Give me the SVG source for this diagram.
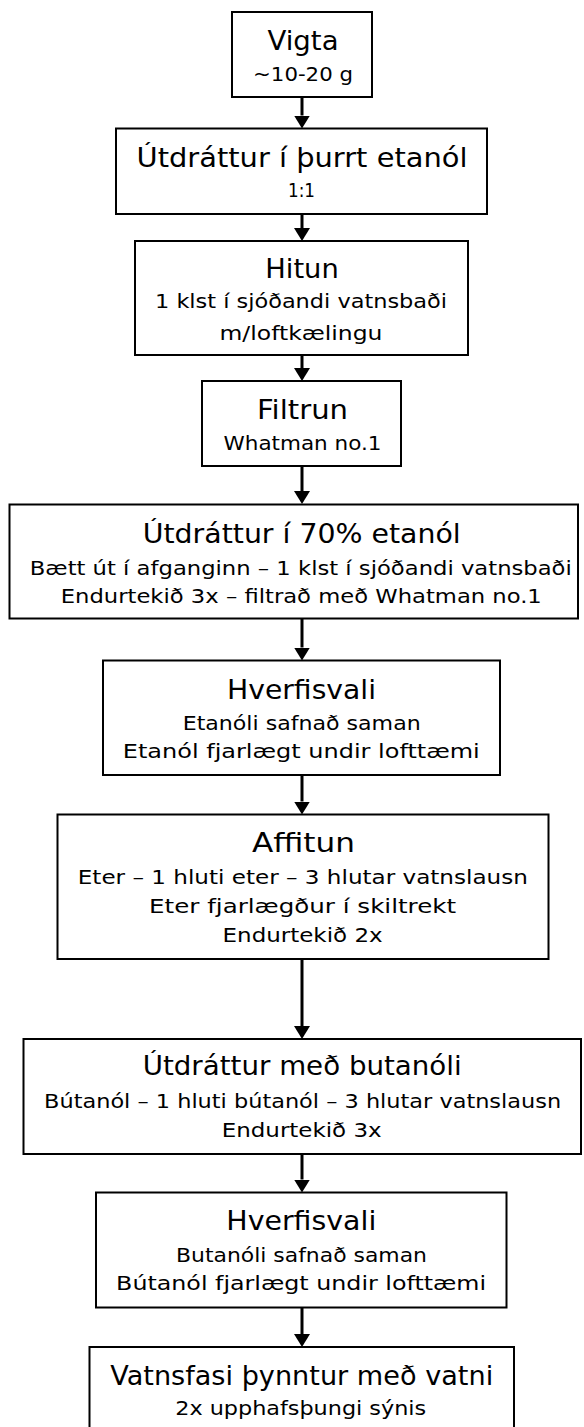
<svg xmlns="http://www.w3.org/2000/svg" width="584" height="1427" viewBox="0 0 584 1427">
<defs>
<style>
.box{fill:#fff;stroke:#000;stroke-width:2}
.t{font-family:'Comic Sans MS','DejaVu Sans',sans-serif;fill:#000;text-anchor:middle}
.h{font-size:27px}
.s{font-size:20px}
.c{stroke:#000;stroke-width:3;fill:none}
</style>
<marker id="ah" viewBox="0 0 13 16" refX="0" refY="8" markerWidth="13" markerHeight="16" markerUnits="userSpaceOnUse" orient="auto">
<path d="M0,0 L13,8 L0,16 z" fill="#000"/>
</marker>
</defs>
<rect width="584" height="1427" fill="#fff"/>
<g id="connectors">
<line class="c" x1="302" y1="97" x2="302" y2="115.5" marker-end="url(#ah)"/>
<line class="c" x1="302" y1="214" x2="302" y2="228" marker-end="url(#ah)"/>
<line class="c" x1="302" y1="355" x2="302" y2="368" marker-end="url(#ah)"/>
<line class="c" x1="302" y1="466" x2="302" y2="491" marker-end="url(#ah)"/>
<line class="c" x1="302" y1="619" x2="302" y2="647.5" marker-end="url(#ah)"/>
<line class="c" x1="302" y1="775" x2="302" y2="801.5" marker-end="url(#ah)"/>
<line class="c" x1="302" y1="959" x2="302" y2="1026" marker-end="url(#ah)"/>
<line class="c" x1="302" y1="1154" x2="302" y2="1179.5" marker-end="url(#ah)"/>
<line class="c" x1="302" y1="1307.5" x2="302" y2="1334" marker-end="url(#ah)"/>
</g>
<g id="n1">
<rect class="box" x="232" y="12" width="140" height="85"/>
<text class="t h" x="303" y="50" textLength="71" lengthAdjust="spacingAndGlyphs">Vigta</text>
<text class="t s" x="303" y="81" textLength="100" lengthAdjust="spacingAndGlyphs">~10-20 g</text>
</g>
<g id="n2">
<rect class="box" x="116" y="128.5" width="371" height="85.5"/>
<text class="t h" x="302" y="166.7" textLength="331" lengthAdjust="spacingAndGlyphs">Útdráttur í þurrt etanól</text>
<text class="t s" x="301.5" y="197.3" textLength="27" lengthAdjust="spacingAndGlyphs">1:1</text>
</g>
<g id="n3">
<rect class="box" x="135" y="241" width="333" height="114"/>
<text class="t h" x="302" y="278.3" textLength="73.5" lengthAdjust="spacingAndGlyphs">Hitun</text>
<text class="t s" x="301" y="308.3" textLength="292" lengthAdjust="spacingAndGlyphs">1 klst í sjóðandi vatnsbaði</text>
<text class="t s" x="301" y="340" textLength="163" lengthAdjust="spacingAndGlyphs">m/loftkælingu</text>
</g>
<g id="n4">
<rect class="box" x="202" y="381" width="199" height="85"/>
<text class="t h" x="302.5" y="419.3" textLength="91" lengthAdjust="spacingAndGlyphs">Filtrun</text>
<text class="t s" x="302.5" y="450" textLength="158" lengthAdjust="spacingAndGlyphs">Whatman no.1</text>
</g>
<g id="n5">
<rect class="box" x="9.5" y="504.5" width="568.5" height="114"/>
<text class="t h" x="301.7" y="542.7" textLength="318" lengthAdjust="spacingAndGlyphs">Útdráttur í 70% etanól</text>
<text class="t s" x="300.8" y="575" textLength="542" lengthAdjust="spacingAndGlyphs">Bætt út í afganginn – 1 klst í sjóðandi vatnsbaði</text>
<text class="t s" x="301.3" y="603.3" textLength="481" lengthAdjust="spacingAndGlyphs">Endurtekið 3x – filtrað með Whatman no.1</text>
</g>
<g id="n6">
<rect class="box" x="103" y="660.5" width="397" height="114.5"/>
<text class="t h" x="301.5" y="699.3" textLength="149" lengthAdjust="spacingAndGlyphs">Hverfisvali</text>
<text class="t s" x="301.7" y="730" textLength="238" lengthAdjust="spacingAndGlyphs">Etanóli safnað saman</text>
<text class="t s" x="301.3" y="758.3" textLength="357" lengthAdjust="spacingAndGlyphs">Etanól fjarlægt undir lofttæmi</text>
</g>
<g id="n7">
<rect class="box" x="57.5" y="814.5" width="491" height="144.5"/>
<text class="t h" x="303.5" y="851.7" textLength="103" lengthAdjust="spacingAndGlyphs">Affitun</text>
<text class="t s" x="302.8" y="884" textLength="450" lengthAdjust="spacingAndGlyphs">Eter – 1 hluti eter – 3 hlutar vatnslausn</text>
<text class="t s" x="302.6" y="912.7" textLength="307" lengthAdjust="spacingAndGlyphs">Eter fjarlægður í skiltrekt</text>
<text class="t s" x="302.6" y="941.7" textLength="160" lengthAdjust="spacingAndGlyphs">Endurtekið 2x</text>
</g>
<g id="n8">
<rect class="box" x="23.5" y="1039" width="557.5" height="115"/>
<text class="t h" x="302.2" y="1075" textLength="319" lengthAdjust="spacingAndGlyphs">Útdráttur með butanóli</text>
<text class="t s" x="302.6" y="1108.3" textLength="517" lengthAdjust="spacingAndGlyphs">Bútanól – 1 hluti bútanól – 3 hlutar vatnslausn</text>
<text class="t s" x="301.7" y="1136.7" textLength="160" lengthAdjust="spacingAndGlyphs">Endurtekið 3x</text>
</g>
<g id="n9">
<rect class="box" x="96" y="1192.5" width="410.5" height="115"/>
<text class="t h" x="301.3" y="1230" textLength="150" lengthAdjust="spacingAndGlyphs">Hverfisvali</text>
<text class="t s" x="301.5" y="1261.7" textLength="251" lengthAdjust="spacingAndGlyphs">Butanóli safnað saman</text>
<text class="t s" x="301.1" y="1290" textLength="370" lengthAdjust="spacingAndGlyphs">Bútanól fjarlægt undir lofttæmi</text>
</g>
<g id="n10">
<rect class="box" x="89.5" y="1347" width="424.5" height="100"/>
<text class="t h" x="301.7" y="1385" textLength="383" lengthAdjust="spacingAndGlyphs">Vatnsfasi þynntur með vatni</text>
<text class="t s" x="300.7" y="1415" textLength="251" lengthAdjust="spacingAndGlyphs">2x upphafsþungi sýnis</text>
</g>
</svg>
